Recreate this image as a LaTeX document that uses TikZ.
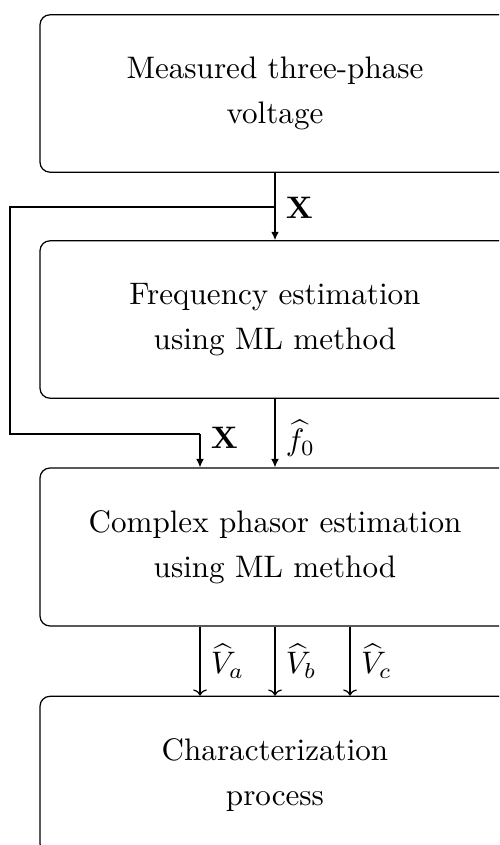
\documentclass[tikz,border=0pt]{standalone}
\usetikzlibrary{arrows.meta}
\begin{document}
\begin{tikzpicture}[x=0.3215pt,y=-0.3215pt,
  blk/.style={draw,rounded corners=3.2pt,minimum width=151.1pt,minimum height=50.6pt,
    align=center,font=\fontsize{10pt}{14.5pt}\selectfont,line width=0.4pt},
  fa/.style={-{Latex[length=2.7pt,width=2.5pt]},line width=0.4pt},
  oa/.style={-{To[length=2pt,width=4.4pt]},line width=0.4pt},
  lbl/.style={right,font=\fontsize{10pt}{12pt}\selectfont}]
\useasboundingbox (0,0) rectangle (499,845);
\clip (0,0) rectangle (499,845);
\node[blk] (b1) at (275,93.5) {Measured three-phase\\voltage};
\node[blk] (b2) at (275,319.5) {Frequency estimation\\using ML method};
\node[blk,minimum height=50.8pt] (b3) at (275,547) {Complex phasor estimation\\using ML method};
\node[blk] (b4) at (275,775) {Characterization\\process};
\coordinate (j1) at (275,207);
\coordinate (l1) at (10,207);
\coordinate (l2) at (10,434);
\coordinate (l3) at (200,434);
\draw[fa] (b1.south) -- node[lbl,pos=0.52]{$\mathbf{X}$} (b2.north);
\draw (j1) -- (l1) -- (l2) -- (l3);
\draw[fa] (l3) -- node[lbl,pos=0.12]{$\mathbf{X}$} (b3.north -| l3);
\draw[fa] (b2.south) -- node[lbl,pos=0.58]{$\widehat{f}_0$} (b3.north);
\coordinate (va) at (200,626);
\coordinate (vc) at (350,626);
\draw[oa] (b3.south -| va) -- node[lbl,pos=0.5]{$\widehat{V}_a$} (b4.north -| va);
\draw[oa] (b3.south) -- node[lbl,pos=0.5]{$\widehat{V}_b$} (b4.north);
\draw[oa] (b3.south -| vc) -- node[lbl,pos=0.5]{$\widehat{V}_c$} (b4.north -| vc);
\end{tikzpicture}
\end{document}
